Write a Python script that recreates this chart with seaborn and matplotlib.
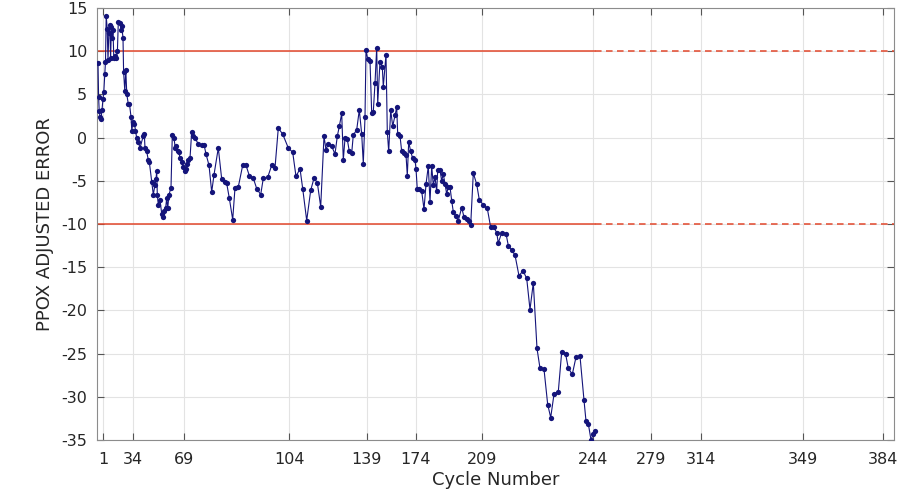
import matplotlib
matplotlib.use("Agg")
import matplotlib.pyplot as plt
import seaborn as sns
import pandas as pd

# Elapsed time axis position of each profile
t = [
    1.0, 1.6, 2.2, 3.0, 4.0, 5.0, 6.0, 6.8, 7.8, 8.5,
    9.2, 10.2, 11.0, 11.8, 12.8, 13.6, 14.4, 15.2, 16.0, 16.8,
    18.2, 19.4, 20.4, 21.3, 23.0, 24.0, 24.8, 26.0, 26.6, 27.8,
    28.8, 29.8, 31.3, 32.5, 34.0, 34.8, 36.0, 37.5, 38.5, 39.8,
    41.4, 43.0, 46.3, 47.3, 48.0, 49.7, 51.3, 52.3, 54.7, 56.3,
    58.0, 59.0, 59.7, 60.3, 61.3, 63.0, 64.7, 65.7, 67.0, 68.7,
    69.7, 70.7, 72.0, 74.0, 75.3, 77.0, 78.3, 79.3, 80.7, 82.0,
    83.0, 84.7, 86.3, 88.0, 88.7, 89.7, 91.3, 93.0, 94.7, 96.3,
    98.0, 101.3, 104.7, 107.0, 109.0, 112.0, 114.7, 117.0, 121.3, 124.7,
    128.0, 129.7, 132.3, 135.7, 138.0, 141.3, 145.7, 149.0, 152.3, 156.3,
    159.7, 163.7, 166.3, 170.7, 174.7, 178.0, 181.3, 185.7, 191.3, 195.7,
    199.0, 203.0, 205.7, 209.7, 213.7, 217.0, 220.3, 223.7, 227.0, 229.0,
    231.3, 234.7, 238.0, 240.3, 242.3, 244.7, 246.3, 248.0, 250.3, 252.3,
    254.7, 256.3, 259.7, 262.3, 264.7, 266.3, 268.0, 269.0, 270.7, 273.0,
    274.7, 276.3, 278.0, 279.7, 280.7, 283.0, 285.3, 286.3, 289.0, 290.3,
    291.7, 293.7, 295.7, 298.0, 299.7, 300.7, 303.0, 304.7, 307.0, 309.0,
    310.3, 311.7, 313.7, 315.7, 318.0, 319.0, 320.3, 322.3, 324.7, 327.0,
    329.0, 331.3, 333.0, 334.7, 336.3, 338.0, 339.7, 340.7, 343.0, 344.7,
    346.3, 348.0, 349.7, 351.3, 353.0, 354.7, 356.3, 358.7, 361.3, 364.7,
    367.0, 369.7, 372.0, 373.7, 376.3, 379.7, 382.3, 386.3, 390.3, 393.7,
    397.0, 399.7, 401.3, 404.7, 409.0, 411.3, 414.7, 418.0, 422.0, 426.0,
    429.7, 433.0, 436.3, 440.0, 443.0, 447.0, 450.7, 453.7, 457.0, 461.3,
    464.7, 468.7, 471.3, 475.3, 479.0, 483.0, 487.0, 489.0, 491.3, 494.0,
    496.3, 498.0,
]

# PPOX adjusted error of each profile
err = [
    8.6, 4.7, 3.1, 2.4, 2.2, 3.2, 4.5, 5.3, 7.4, 8.8,
    14.1, 12.6, 9.0, 12.1, 13.0, 9.2, 12.8, 11.5, 12.5, 9.2,
    9.4, 9.2, 10.0, 13.4, 13.3, 12.5, 12.9, 11.5, 7.6, 5.4,
    7.8, 5.0, 3.9, 3.9, 2.4, 0.8, 1.8, 1.6, 0.8, -0.1,
    -0.5, -1.2, 0.2, 0.4, -1.2, -1.6, -2.6, -2.8, -5.1, -6.6,
    -5.5, -4.8, -3.9, -6.6, -7.8, -7.2, -8.8, -9.2, -8.5, -8.1,
    -7.0, -8.2, -6.6, -5.8, 0.3, -0.1, -1.2, -1.0, -1.6, -1.7,
    -2.4, -2.8, -3.4, -3.9, -3.6, -3.1, -2.6, -2.4, 0.7, 0.2,
    -0.1, -0.7, -0.9, -0.8, -1.9, -3.2, -6.3, -4.3, -1.2, -4.8,
    -5.1, -5.3, -7.0, -9.5, -5.8, -5.7, -3.2, -3.2, -4.4, -4.7,
    -5.9, -6.6, -4.7, -4.6, -3.2, -3.5, 1.1, 0.4, -1.2, -1.7,
    -4.5, -3.6, -5.9, -9.6, -6.1, -4.7, -5.2, -8.0, 0.15, -1.4,
    -0.7, -1.0, -1.9, 0.15, 1.3, 2.8, -2.6, -0.1, -0.2, -1.6,
    -1.8, 0.3, 0.9, 3.2, 0.4, -3.0, 2.4, 10.1, 9.1, 8.9,
    2.8, 3.0, 6.3, 10.4, 3.9, 8.8, 8.2, 5.9, 9.6, 0.7,
    -1.6, 3.2, 1.3, 2.6, 3.5, 0.4, 0.2, -1.6, -1.8, -2.0,
    -4.4, -0.5, -1.6, -2.4, -2.6, -3.6, -6.0, -6.0, -6.2, -8.3,
    -5.4, -3.3, -7.4, -3.3, -5.5, -4.6, -6.2, -3.75, -3.8, -5.0,
    -4.2, -5.4, -6.5, -5.7, -5.7, -7.3, -8.6, -9.1, -9.6, -8.1,
    -9.2, -9.4, -9.6, -10.1, -4.1, -5.4, -7.2, -7.8, -8.2, -10.4,
    -10.4, -11.0, -12.2, -11.0, -11.1, -12.5, -13.0, -13.6, -16.0, -15.4,
    -16.3, -19.9, -16.8, -24.4, -26.7, -26.8, -30.9, -32.4, -29.7, -29.4,
    -24.8, -25.1, -26.7, -27.4, -25.4, -25.3, -30.4, -32.8, -33.1, -35.0,
    -34.3, -34.0,
]

# Cycle-number ticks and where they fall on the time axis
cycle_labels = ["1", "34", "69", "104", "139", "174", "209", "244", "279",
                "314", "349", "384"]
cycle_pos = [6.0, 35.7, 87.3, 192.3, 269.7, 319.0, 384.7, 496.3, 554.0,
             604.0, 706.3, 786.3]
y_ticks = [15, 10, 5, 0, -5, -10, -15, -20, -25, -30, -35]
limit_hi, limit_lo = 10, -10
t_end = 797.0

sns.set_theme(style="whitegrid")
plt.rcParams["font.family"] = ["DejaVu Sans"]
plt.rcParams["axes.unicode_minus"] = False

df = pd.DataFrame({"t": t, "err": err})

fig = plt.figure(figsize=(9.03, 4.98), dpi=100)
ax = fig.add_axes([97 / 903, 1 - 440 / 498, 797 / 903, 432 / 498])

# Acceptance limits: solid over the measured span, dashed beyond it
last_t = t[-1]
red = "#e2472c"
for lvl in (limit_hi, limit_lo):
    ax.plot([0, last_t], [lvl, lvl], color=red, lw=1.1, zorder=2)
    ax.plot([last_t, t_end], [lvl, lvl], color=red, lw=1.1,
            dashes=(4.3, 2.9), zorder=2)

sns.lineplot(data=df, x="t", y="err", ax=ax, sort=False, estimator=None,
             color="#14147a", lw=0.8, marker="o", markersize=3.8,
             markeredgewidth=0, zorder=3)

ax.set_xlim(0, t_end)
ax.set_ylim(-35, 15)
ax.set_xticks(cycle_pos)
ax.set_xticklabels(cycle_labels)
ax.set_yticks(y_ticks)
ax.set_yticklabels([str(v) for v in y_ticks])

ax.set_facecolor("white")
ax.grid(True, color="#e3e3e3", lw=0.8)
for s in ax.spines.values():
    s.set_color("#8c8c8c")
    s.set_linewidth(0.8)
ax.tick_params(axis="both", direction="in", length=5, width=0.8,
               labelcolor="#262626", labelsize=11.5, top=True, right=True,
               bottom=True, left=True, color="#555555")
ax.tick_params(axis="x", pad=8.5)
ax.tick_params(axis="y", pad=7)

ax.set_xlabel("Cycle Number", fontsize=13, color="#262626", labelpad=3)
ax.set_ylabel("PPOX ADJUSTED ERROR", fontsize=13, color="#262626",
              labelpad=5.5)

fig.savefig("out.png", dpi=100)
